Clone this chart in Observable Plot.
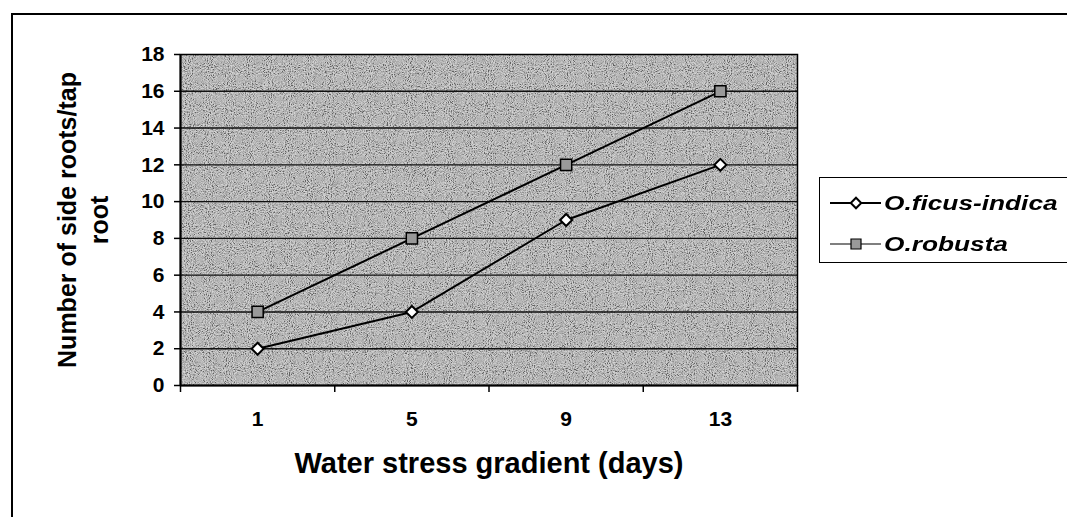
<!DOCTYPE html>
<html>
<head>
<meta charset="utf-8">
<script src="https://cdn.jsdelivr.net/npm/d3@7"></script>
<script src="https://cdn.jsdelivr.net/npm/@observablehq/plot@0.6"></script>
<style>
  body { margin: 0; background: #fff; font-family: "Liberation Sans", Arial, sans-serif; }
  #wrap { position: relative; width: 1067px; height: 517px; overflow: hidden; }
  #border { position: absolute; left: 11px; top: 13px; width: 1100px; height: 600px;
            border-left: 2px solid #000; border-top: 2px solid #000; box-sizing: border-box; }
  #chart { position: absolute; left: 0; top: 0; }
  #legend { position: absolute; left: 819px; top: 177px; width: 280px; height: 86px;
            border: 1.5px solid #000; background: #fff; box-sizing: border-box; }
  .item { position: absolute; left: 8px; height: 30px; display: flex; align-items: center; }
  .item svg { display: block; }
  .item span { font-size: 21px; font-weight: bold; font-style: italic; margin-left: 2px; color: #000;
               display: inline-block; transform: scaleX(1.25); transform-origin: left center; }
</style>
</head>
<body>
<div id="wrap">
  <div id="border"></div>
  <div id="chart"></div>
  <div id="legend"></div>
</div>
<script>
// Days of water stress (category labels) and mean side roots per tap root
const days = ["1", "5", "9", "13"];
const ficusIndica = [2, 4, 9, 12];
const robusta = [4, 8, 12, 16];
const yTicks = [0, 2, 4, 6, 8, 10, 12, 14, 16, 18];
const seriesNames = ["O.ficus-indica", "O.robusta"];

// Categories sit in the middle of equal slots; slot edges carry the tick marks
const slotCenters = days.map((d, i) => i + 0.5);
const slotEdges = d3.range(days.length + 1);

const rows = (values, name) => days.map((d, i) => ({ x: slotCenters[i], day: d, value: values[i], series: name }));
const ficusRows = rows(ficusIndica, seriesNames[0]);
const robustaRows = rows(robusta, seriesNames[1]);

const font = `"Liberation Sans", Arial, sans-serif`;

// Speckled grey fill of the plotting area
const grain = (index, scales, values, dimensions) => {
  const { width, height, marginLeft, marginRight, marginTop, marginBottom } = dimensions;
  const g = d3.create("svg:g");
  const defs = g.append("defs");
  const f = defs.append("filter").attr("id", "grain").attr("x", 0).attr("y", 0).attr("width", 1).attr("height", 1);
  f.append("feTurbulence").attr("type", "fractalNoise").attr("baseFrequency", 0.95).attr("numOctaves", 2).attr("seed", 7).attr("result", "n");
  f.append("feColorMatrix").attr("type", "saturate").attr("values", 0).attr("result", "g");
  const ct = f.append("feComponentTransfer");
  ct.append("feFuncR").attr("type", "linear").attr("slope", 3.2).attr("intercept", -1.1);
  ct.append("feFuncG").attr("type", "linear").attr("slope", 3.2).attr("intercept", -1.1);
  ct.append("feFuncB").attr("type", "linear").attr("slope", 3.2).attr("intercept", -1.1);
  ct.append("feFuncA").attr("type", "linear").attr("slope", 0).attr("intercept", 1);
  g.append("rect")
    .attr("x", marginLeft).attr("y", marginTop)
    .attr("width", width - marginLeft - marginRight)
    .attr("height", height - marginTop - marginBottom)
    .attr("filter", "url(#grain)")
    .attr("opacity", 0.45);
  return g.node();
};

const chart = Plot.plot({
  width: 1067,
  height: 517,
  marginLeft: 180,
  marginRight: 270,
  marginTop: 54,
  marginBottom: 132,
  style: { fontFamily: font, fontSize: "21px", fontWeight: "bold", background: "transparent", color: "#000" },
  x: { domain: [0, days.length] },
  y: { domain: [0, 18] },
  marks: [
    Plot.frame({ fill: "#b2b2b2" }),
    grain,
    Plot.ruleY(yTicks.slice(1, -1), { stroke: "#111", strokeWidth: 1.4 }),
    Plot.frame({ stroke: "#000", strokeWidth: 1.5 }),
    Plot.axisY({ ticks: yTicks, tickSize: 6, tickPadding: 10, fontSize: 21, label: null, strokeWidth: 1.5 }),
    Plot.axisX({ ticks: slotEdges, tickSize: 7, tickFormat: () => "", label: null, strokeWidth: 1.5 }),
    Plot.axisX({ ticks: slotCenters, tickSize: 0, tickPadding: 26, fontSize: 21, tickFormat: (d) => days[Math.floor(d)], label: null }),
    Plot.ruleX([0], { stroke: "#000", strokeWidth: 2 }),
    Plot.ruleY([0], { stroke: "#000", strokeWidth: 2 }),
    Plot.line(robustaRows, { x: "x", y: "value", stroke: "#000", strokeWidth: 2 }),
    Plot.line(ficusRows, { x: "x", y: "value", stroke: "#000", strokeWidth: 2 }),
    Plot.dot(robustaRows, { x: "x", y: "value", symbol: "square", r: 6.3, fill: "#999", stroke: "#000", strokeWidth: 1.5 }),
    Plot.dot(ficusRows, { x: "x", y: "value", symbol: "diamond2", r: 5.4, fill: "#fff", stroke: "#000", strokeWidth: 2 }),
    Plot.text(["Water stress gradient (days)"], { frameAnchor: "bottom", dy: 87, fontSize: 29, fontWeight: "bold", fill: "#000" }),
    Plot.text(["Number of side roots/tap\nroot"], { frameAnchor: "left", textAnchor: "middle", dx: -99, rotate: -90, fontSize: 25, fontWeight: "bold", lineHeight: 1.28, fill: "#000" })
  ]
});
document.getElementById("chart").append(chart);

// Legend: line sample with its marker, then the species name
const legend = d3.select("#legend");
const symbols = [
  { type: d3.symbolDiamond2, size: 70, fill: "#fff", sw: 2 },
  { type: d3.symbolSquare, size: 100, fill: "#999", sw: 1.2 }
];
seriesNames.forEach((name, i) => {
  const item = legend.append("div").attr("class", "item").style("top", `${10 + i * 41}px`);
  const svg = item.append("svg").attr("width", 54).attr("height", 30);
  svg.append("line").attr("x1", 2).attr("x2", 53).attr("y1", 15).attr("y2", 15)
    .attr("stroke", "#000").attr("stroke-width", i === 0 ? 2 : 1.2);
  svg.append("path").attr("transform", "translate(28,15)")
    .attr("d", d3.symbol(symbols[i].type, symbols[i].size)())
    .attr("fill", symbols[i].fill).attr("stroke", "#000").attr("stroke-width", symbols[i].sw);
  item.append("span").text(name);
});
</script>
</body>
</html>
